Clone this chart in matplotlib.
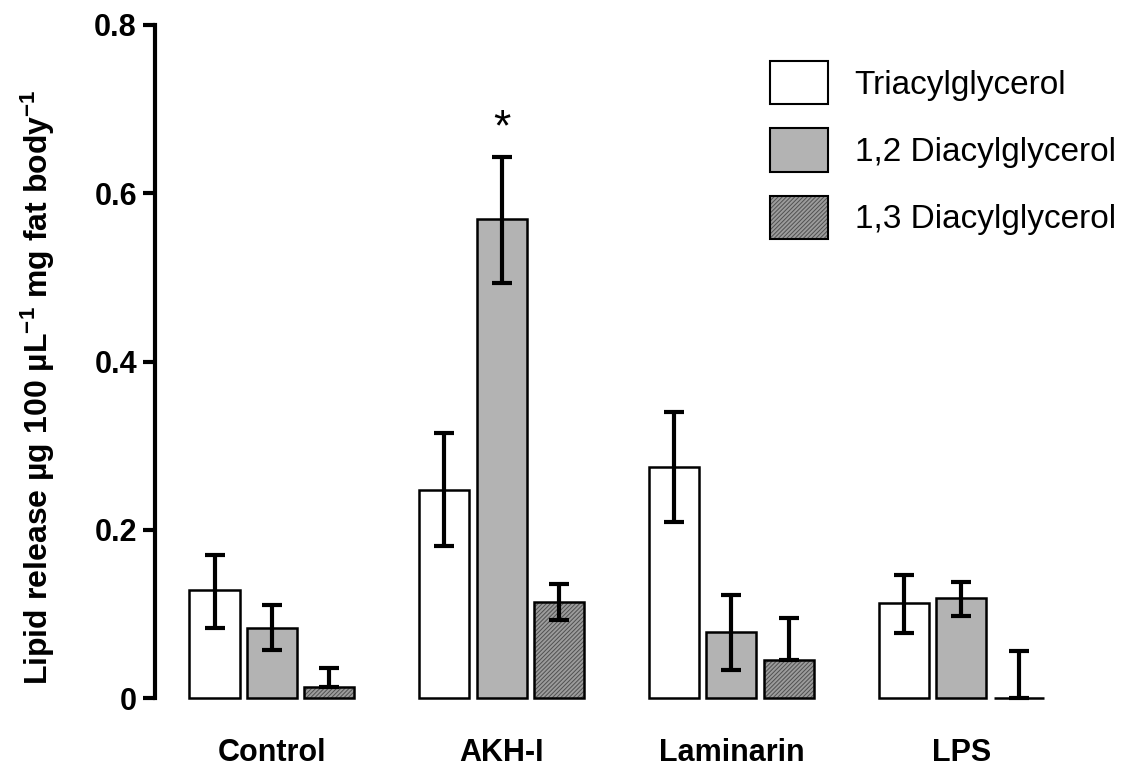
import matplotlib.pyplot as plt
from matplotlib.patches import Patch
import numpy as np

plt.rcParams['font.family'] = ['Liberation Sans', 'DejaVu Sans']
plt.rcParams['mathtext.fontset'] = 'custom'
plt.rcParams['mathtext.rm'] = 'Liberation Sans:bold'
plt.rcParams['mathtext.default'] = 'rm'
plt.rcParams['hatch.linewidth'] = 0.7

groups = ['Control', 'AKH-I', 'Laminarin', 'LPS']
series = ['Triacylglycerol', '1,2 Diacylglycerol', '1,3 Diacylglycerol']

tag = [0.128, 0.247, 0.275, 0.113]
tag_lo = [0.045, 0.066, 0.066, 0.036]
tag_hi = [0.042, 0.068, 0.065, 0.033]

dag12 = [0.083, 0.569, 0.078, 0.119]
dag12_lo = [0.026, 0.076, 0.045, 0.022]
dag12_hi = [0.028, 0.074, 0.044, 0.019]

dag13 = [0.013, 0.114, 0.045, 0.0]
dag13_lo = [0.0, 0.021, 0.0, 0.0]
dag13_hi = [0.023, 0.022, 0.050, 0.056]

fig = plt.figure(figsize=(11.3, 7.69), dpi=100)
ax = fig.add_axes([155/1130, 71/769, 975/1130, 673/769])

x = np.arange(len(groups))
off = 0.25
w = 0.218

ax.bar(x - off, tag, w, color='white', edgecolor='black', linewidth=1.8, clip_on=False, zorder=2)
ax.bar(x, dag12, w, color='#b3b3b3', edgecolor='black', linewidth=1.8, clip_on=False, zorder=2)
ax.bar(x + off, dag13, w, color='#9c9c9c', edgecolor='#505050', hatch='////////', linewidth=0, clip_on=False, zorder=2)
ax.bar(x + off, dag13, w, color='none', edgecolor='black', linewidth=1.8, clip_on=False, zorder=2)

for xs, m, lo, hi in [(x - off, tag, tag_lo, tag_hi), (x, dag12, dag12_lo, dag12_hi), (x + off, dag13, dag13_lo, dag13_hi)]:
    ax.errorbar(xs, m, yerr=[lo, hi], fmt='none', ecolor='black', elinewidth=3,
                capsize=7.5, capthick=3, clip_on=False, zorder=3)

# significance marker
ax.text(x[1], dag12[1] + dag12_hi[1] + 0.033, '*', ha='center', va='center', fontsize=32)

ax.set_xlim(-0.509, 3.735)
ax.set_ylim(0, 0.8)
ax.set_yticks([0, 0.2, 0.4, 0.6, 0.8])
ax.set_yticklabels(['0', '0.2', '0.4', '0.6', '0.8'], fontsize=22, fontweight='bold')
ax.set_xticks(x)
ax.set_xticklabels(groups, fontsize=22, fontweight='bold')
ax.tick_params(axis='x', length=0, pad=29)
ax.tick_params(axis='y', length=9, width=3, direction='out', pad=4)

for s in ['top', 'right', 'bottom']:
    ax.spines[s].set_visible(False)
ax.spines['left'].set_linewidth(3)

ax.set_ylabel(r'Lipid release µg 100 µL$^{-1}$ mg fat body$^{-1}$', fontsize=23, fontweight='bold')
ax.yaxis.set_label_coords(-0.101, 0.462)

h1 = Patch(facecolor='white', edgecolor='black', linewidth=1.5)
h2 = Patch(facecolor='#b3b3b3', edgecolor='black', linewidth=1.5)
h3a = Patch(facecolor='#9c9c9c', edgecolor='#505050', hatch='////////', linewidth=0)
h3b = Patch(facecolor='none', edgecolor='black', linewidth=1.5)
fig.legend([h1, h2, (h3a, h3b)], series, loc='upper left',
           bbox_to_anchor=(770/1130, 1 - 61/769), bbox_transform=fig.transFigure,
           frameon=False, fontsize=24, handlelength=1.74, handleheight=1.62,
           handletextpad=0.8, labelspacing=0.72, borderpad=0, borderaxespad=0)

plt.savefig('out.png', dpi=100)
